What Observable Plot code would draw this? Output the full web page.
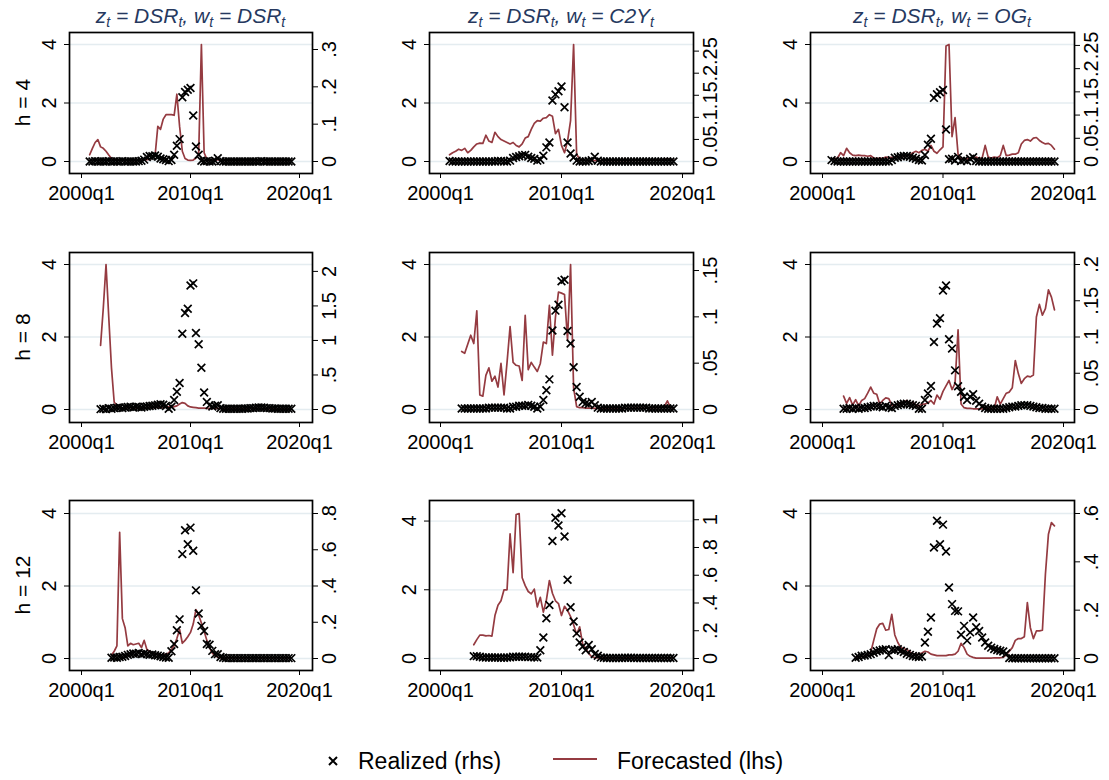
<!DOCTYPE html>
<html><head><meta charset="utf-8">
<script src="https://cdn.jsdelivr.net/npm/d3@7"></script>
<script src="https://cdn.jsdelivr.net/npm/@observablehq/plot@0.6"></script>
<style>
body{margin:0;background:#fff;}
#root{position:relative;width:1109px;height:780px;overflow:hidden;background:#fff;font-family:"Liberation Sans",Arial,Helvetica,sans-serif;}
#root svg{position:absolute;}
</style></head>
<body><div id="root"></div>
<script>
// ---------------- DATA ----------------
const xTickValues = [2000, 2010, 2020];
const xTickLabels = ["2000q1", "2010q1", "2020q1"];
const lhsTicks = [0, 2, 4];
const columnVars = ["DSR", "C2Y", "OG"];
const rowLabels = ["h = 4", "h = 8", "h = 12"];
const legendLabels = ["Realized (rhs)", "Forecasted (lhs)"];

const rhsTicks_h4_DSR = [0, 0.1, 0.2, 0.3];
const rhsTicks_h4_C2Y = [0, 0.05, 0.1, 0.15, 0.2, 0.25];
const rhsTicks_h4_OG  = [0, 0.05, 0.1, 0.15, 0.2, 0.25];
const rhsTicks_h8_DSR = [0, 0.5, 1, 1.5, 2];
const rhsTicks_h8_C2Y = [0, 0.05, 0.1, 0.15];
const rhsTicks_h8_OG  = [0, 0.05, 0.1, 0.15, 0.2];
const rhsTicks_h12_DSR = [0, 0.2, 0.4, 0.6, 0.8];
const rhsTicks_h12_C2Y = [0, 0.2, 0.4, 0.6, 0.8, 1];
const rhsTicks_h12_OG  = [0, 0.2, 0.4, 0.6];

// h = 4 (series start 2000q4)
const start_h4 = "2000q4";
const realized_h4_DSR = [0,
 0,0.001,0,0, 0,0,0.001,0, 0,0,0,0.001, 0,0,0,0, 0,0.001,0.002,0.005,
 0.012,0.015,0.014,0.016, 0.013,0.008,0.006,0.004, 0.001,0.004,0.018,0.042,
 0.060,0.172,0.186,0.192, 0.197,0.123,0.040,0.018, 0.002,0,0.001,0, 0,0.002,0.009,0.001,
 0,0,0,0, 0,0,0,0, 0,0,0,0, 0,0,0.001,0, 0,0,0,0, 0,0,0,0, 0,0];
const forecast_h4_DSR = [0.23,
 0.45,0.65,0.75,0.5, 0.45,0.35,0.22,0.1, 0.06,0.05,0.05,0.04, 0.04,0.04,0.03,0.03, 0.03,0.04,0.05,0.05,
 0.06,0.08,0.12,0.2, 1.2,1.1,1.45,1.6, 1.6,1.6,1.58,2.3, 1.2,0.35,0.1,0.05, 0.04,0.05,0.12,0.25,
 4.0,0.3,0.08,0.06, 0.05,0.05,0.06,0.05, 0.04,0.04,0.05,0.04, 0.04,0.04,0.04,0.03, 0.03,0.03,0.03,0.03,
 0.03,0.03,0.03,0.03, 0.03,0.03,0.03,0.04, 0.04,0.04,0.04,0.04, 0.04,0.04];
const realized_h4_C2Y = [0.001,
 0,0,0,0, 0,0,0,0, 0,0,0,0, 0,0,0,0.001, 0.001,0,0,0.002,
 0.008,0.010,0.012,0.014, 0.015,0.011,0.008,0.006, 0.002,0.004,0.013,0.032,
 0.043,0.138,0.152,0.159, 0.170,0.123,0.043,0.018, 0.009,0.002,0,0, 0,0.001,0.003,0.011,
 0.002,0,0,0, 0,0,0,0, 0,0,0,0, 0,0,0,0, 0,0,0,0, 0,0,0,0, 0,0];
const forecast_h4_C2Y = [0.23,
 0.3,0.35,0.42,0.38, 0.45,0.3,0.38,0.5, 0.6,0.63,0.62,0.9, 0.7,0.65,1.0,0.85, 0.75,0.7,0.65,0.6,
 0.65,0.55,0.5,0.6, 0.8,0.85,1.1,1.3, 1.4,1.38,1.48,1.5, 1.6,1.55,0.95,1.1, 0.55,0.3,0.7,1.4,
 4.0,0.25,0.08,0.05, 0.04,0.03,0.03,0.03, 0.03,0.03,0.03,0.03, 0.03,0.03,0.03,0.03, 0.03,0.03,0.03,0.03,
 0.04,0.04,0.04,0.04, 0.04,0.04,0.05,0.05, 0.05,0.06,0.06,0.1, 0.06,0.05];
const realized_h4_OG = [0.003,
 0.001,0,0,0, 0,0,0,0, 0,0,0,0, 0,0,0,0, 0,0,0,0.003,
 0.008,0.009,0.011,0.012, 0.012,0.010,0.008,0.006, 0.003,0.002,0.014,0.036,
 0.049,0.137,0.145,0.149, 0.154,0.069,0.005,0.006, 0.002,0.010,0.001,0.003, 0.001,0.006,0.009,0.001,
 0,0,0,0, 0,0,0,0, 0,0,0,0, 0,0,0,0, 0,0,0,0, 0,0,0,0, 0,0];
const forecast_h4_OG = [0.08,
 0.1,0.12,0.3,0.2, 0.45,0.3,0.22,0.2, 0.22,0.2,0.2,0.18, 0.2,0.12,0.1,0.12, 0.1,0.15,0.13,0.14,
 0.12,0.15,0.14,0.18, 0.2,0.22,0.3,0.35, 0.3,0.38,0.42,0.35, 0.55,0.35,0.28,0.4, 0.5,3.95,4.0,0.85,
 1.5,0.25,0.1,0.08, 0.1,0.08,0.12,0.15, 0.1,0.12,0.55,0.15, 0.12,0.15,0.13,0.2, 0.55,0.2,0.22,0.25,
 0.25,0.3,0.6,0.72, 0.75,0.7,0.8,0.82, 0.72,0.65,0.6,0.62, 0.55,0.42];

// h = 8 (series start 2001q4)
const start_h8 = "2001q4";
const realized_h8_DSR = [0.005,
 0.01,0.005,0.02,0.01, 0.02,0.025,0.03,0.02, 0.03,0.035,0.04,0.03, 0.04,0.035,0.03,0.04,
 0.045,0.05,0.055,0.06, 0.07,0.075,0.07,0.05, 0.01,0.04,0.137,0.257, 0.383,1.097,1.397,1.46,
 1.796,1.827,1.108,0.945, 0.604,0.247,0.11,0.063, 0.042,0.053,0.063,0.02, 0.01,0.01,0.01,0.01,
 0.01,0.01,0.01,0.01, 0.015,0.015,0.02,0.02, 0.025,0.03,0.03,0.025, 0.02,0.02,0.015,0.015,
 0.01,0.01,0.01,0.01, 0.01,0.01];
const forecast_h8_DSR = [1.77,
 2.8,4.0,2.55,1.15, 0.2,0.12,0.06,0.04, 0.04,0.05,0.05,0.05, 0.04,0.04,0.05,0.04,
 0.04,0.05,0.05,0.06, 0.06,0.05,0.05,0.06, 0.07,0.06,0.08,0.1, 0.15,0.19,0.17,0.1,
 0.07,0.06,0.05,0.04, 0.04,0.04,0.03,0.03, 0.03,0.03,0.03,0.03, 0.03,0.03,0.03,0.03,
 0.03,0.03,0.03,0.03, 0.03,0.03,0.03,0.03, 0.03,0.03,0.02,0.02, 0.02,0.02,0.02,0.02,
 0.02,0.02,0.02,0.02, 0.02,0.02];
const realized_h8_C2Y = [0.001,
 0.001,0.001,0.001,0.001, 0.001,0.001,0.001,0.001, 0.002,0.002,0.002,0.002, 0.002,0.002,0.001,0.001,
 0.003,0.003,0.004,0.004, 0.004,0.005,0.004,0.003, 0.001,0.003,0.0102,0.0207, 0.0325,0.0852,0.1067,0.113,
 0.1384,0.14,0.0848,0.0712, 0.0457,0.0242,0.0137,0.0082, 0.0066,0.0059,0.0082,0.0047, 0.002,0.001,0.001,0.001,
 0.001,0.001,0.001,0.001, 0.001,0.002,0.002,0.002, 0.002,0.002,0.002,0.002, 0.002,0.001,0.001,0.001,
 0.001,0.001,0.001,0.001, 0.001,0.001];
const forecast_h8_C2Y = [1.6,
 1.55,1.8,2.05,1.82, 2.72,0.4,0.37,0.94, 1.15,0.78,0.92,0.62, 1.27,0.4,1.3,2.29,
 1.3,1.22,1.2,0.8, 2.6,1.1,1.3,1.17, 1.05,1.27,1.86,1.82, 2.87,1.5,2.55,3.24,
 3.21,3.17,1.91,4.0, 0.6,0.08,0.05,0.05, 0.04,0.04,0.04,0.03, 0.03,0.03,0.03,0.03,
 0.03,0.03,0.03,0.03, 0.03,0.03,0.03,0.03, 0.04,0.04,0.04,0.04, 0.04,0.04,0.05,0.05,
 0.05,0.06,0.08,0.24, 0.06,0.03];
const realized_h8_OG = [0.001,
 0.001,0.002,0.001,0.002, 0.001,0.002,0.002,0.003, 0.004,0.005,0.005,0.004, 0.003,0.005,0.003,0.002,
 0.005,0.006,0.007,0.008, 0.008,0.007,0.006,0.005, 0.001,0.001,0.013,0.022, 0.0325,0.093,0.1185,0.126,
 0.164,0.171,0.097,0.084, 0.054,0.032,0.0245,0.0175, 0.013,0.0175,0.021,0.012, 0.008,0.004,0.002,0.001,
 0.001,0.001,0.001,0.001, 0.001,0.002,0.003,0.004, 0.004,0.005,0.006,0.006, 0.006,0.005,0.004,0.003,
 0.002,0.002,0.001,0.001, 0.001,0.001];
const forecast_h8_OG = [0.37,
 0.17,0.33,0.12,0.27, 0.1,0.25,0.3,0.45, 0.62,0.45,0.42,0.15, 0.25,0.32,0.3,0.12,
 0.12,0.15,0.18,0.2, 0.25,0.15,0.2,0.12, 0.1,0.15,0.15,0.18, 0.25,0.15,0.4,0.28,
 0.5,0.65,0.8,0.55, 0.72,2.2,0.15,0.05, 0.03,0.03,0.02,0.02, 0.02,0.02,0.03,0.03,
 0.02,0.03,0.35,0.15, 0.3,0.45,0.48,0.6, 1.35,0.99,0.72,0.85, 0.92,0.9,0.95,2.55,
 2.9,2.6,2.78,3.3, 3.1,2.75];

// h = 12 (series start 2002q4)
const start_h12 = "2002q4";
const realized_h12_DSR = [0.004,
 0.006,0.004,0.008,0.01, 0.014,0.02,0.024,0.028, 0.026,0.03,0.024,0.028, 0.024,0.02,0.022,0.018,
 0.016,0.012,0.008,0.006, 0.004,0.04,0.08,0.156, 0.216,0.576,0.708,0.63, 0.722,0.594,0.376,0.248,
 0.18,0.152,0.08,0.076, 0.042,0.024,0.024,0.008, 0.004,0.002,0.002,0.002, 0.002,0.002,0.002,0.002,
 0.002,0.002,0.002,0.002, 0.002,0.002,0.002,0.002, 0.002,0.002,0.002,0.002, 0.002,0.002,0.002,0.002,
 0.002,0.002];
const forecast_h12_DSR = [0.09,
 0.2,0.35,3.48,1.1, 0.85,0.35,0.42,0.38, 0.4,0.42,0.3,0.5, 0.25,0.2,0.15,0.12,
 0.12,0.1,0.1,0.12, 0.15,0.25,0.35,0.55, 0.8,0.42,0.5,0.6, 0.72,0.95,1.35,1.2,
 0.98,0.75,0.5,0.3, 0.15,0.08,0.03,0.02, 0.02,0.02,0.02,0.02, 0.02,0.02,0.02,0.02,
 0.02,0.02,0.02,0.02, 0.02,0.02,0.02,0.02, 0.02,0.02,0.02,0.02, 0.02,0.02,0.02,0.02,
 0.02,0.02];
const realized_h12_C2Y = [0.017,
 0.017,0.012,0.008,0.007, 0.007,0.007,0.007,0.007, 0.006,0.006,0.007,0.008, 0.012,0.012,0.012,0.012,
 0.012,0.01,0.01,0.008, 0.007,0.059,0.151,0.29, 0.386,0.847,1.015,0.958, 1.047,0.879,0.567,0.369,
 0.267,0.181,0.116,0.087, 0.059,0.097,0.067,0.032, 0.02,0.008,0.005,0.004, 0.004,0.004,0.004,0.004,
 0.004,0.005,0.006,0.005, 0.004,0.004,0.004,0.004, 0.004,0.004,0.004,0.004, 0.004,0.004,0.004,0.004,
 0.004,0.004];
const forecast_h12_C2Y = [0.4,
 0.55,0.68,0.68,0.66, 0.67,0.65,1.25,1.55, 1.68,2.0,2.0,3.63, 2.5,4.19,4.22,2.35,
 2.12,1.95,1.88,2.02, 1.5,1.78,1.35,1.7, 2.27,1.9,1.68,1.6, 1.25,1.52,1.4,1.22,
 0.98,0.7,0.92,0.42, 0.3,0.15,0.05,0.03, 0.02,0.02,0.02,0.02, 0.02,0.02,0.02,0.02,
 0.02,0.02,0.02,0.02, 0.02,0.02,0.02,0.02, 0.02,0.02,0.02,0.02, 0.02,0.02,0.02,0.02,
 0.02,0.02];
const realized_h12_OG = [0.003,
 0.006,0.011,0.012,0.015, 0.018,0.024,0.03,0.033, 0.036,0.038,0.014,0.036, 0.035,0.038,0.032,0.027,
 0.02,0.015,0.01,0.008, 0.006,0.008,0.066,0.111, 0.17,0.459,0.57,0.473, 0.554,0.443,0.294,0.225,
 0.197,0.195,0.098,0.135, 0.074,0.108,0.17,0.129, 0.114,0.087,0.066,0.053, 0.045,0.039,0.035,0.032,
 0.029,0.021,0.002,0.001, 0.001,0.001,0.001,0.001, 0.001,0.001,0.001,0.001, 0.001,0.001,0.001,0.001,
 0.001,0.001];
const forecast_h12_OG = [0.03,
 0.04,0.05,0.07,0.12, 0.17,0.5,0.82,0.95, 0.97,0.78,0.8,1.22, 0.65,0.44,0.3,0.27,
 0.25,0.18,0.14,0.1, 0.12,0.15,0.2,0.18, 0.12,0.1,0.08,0.08, 0.08,0.08,0.1,0.1,
 0.12,0.2,0.42,0.3, 0.12,0.06,0.03,0.01, 0.01,0.01,0.01,0.01, 0.01,0.02,0.02,0.02,
 0.03,0.1,0.2,0.3, 0.5,0.55,0.55,0.6, 1.54,0.85,0.55,0.76, 0.76,0.78,2.33,3.43,
 3.75,3.66];

// ---------------- LAYOUT ----------------
const RED = "#953b41";
const TITLE_COLOR = "#26395f";
const FONT = "'Liberation Sans', Arial, Helvetica, sans-serif";
const COLS = [
  {x0: 69, x1: 312, xa: 81, xb: 299},
  {x0: 429, x1: 693, xa: 440, xb: 682},
  {x0: 810, x1: 1074, xa: 822, xb: 1063}
];
const ROWS = [
  {y0: 32, y1: 173, yZero: 161, yTop: 44},
  {y0: 252, y1: 422, yZero: 409, yTop: 264},
  {y0: 500, y1: 670, yZero: 658, yTop: 513}
];

const panels = [
  {row:0,col:0,start:start_h4,realized:realized_h4_DSR,forecast:forecast_h4_DSR,rhsTicks:rhsTicks_h4_DSR,lhsTop:4,rhsTop:0.3134},
  {row:0,col:1,start:start_h4,realized:realized_h4_C2Y,forecast:forecast_h4_C2Y,rhsTicks:rhsTicks_h4_C2Y,lhsTop:4,rhsTop:0.265},
  {row:0,col:2,start:start_h4,realized:realized_h4_OG,forecast:forecast_h4_OG,rhsTicks:rhsTicks_h4_OG,lhsTop:4,rhsTop:0.252},
  {row:1,col:0,start:start_h8,realized:realized_h8_DSR,forecast:forecast_h8_DSR,rhsTicks:rhsTicks_h8_DSR,lhsTop:4,rhsTop:2.10},
  {row:1,col:1,start:start_h8,realized:realized_h8_C2Y,forecast:forecast_h8_C2Y,rhsTicks:rhsTicks_h8_C2Y,lhsTop:4,rhsTop:0.1565},
  {row:1,col:2,start:start_h8,realized:realized_h8_OG,forecast:forecast_h8_OG,rhsTicks:rhsTicks_h8_OG,lhsTop:4,rhsTop:0.2},
  {row:2,col:0,start:start_h12,realized:realized_h12_DSR,forecast:forecast_h12_DSR,rhsTicks:rhsTicks_h12_DSR,lhsTop:4,rhsTop:0.8},
  {row:2,col:1,start:start_h12,realized:realized_h12_C2Y,forecast:forecast_h12_C2Y,rhsTicks:rhsTicks_h12_C2Y,lhsTop:4.22,rhsTop:1.045},
  {row:2,col:2,start:start_h12,realized:realized_h12_OG,forecast:forecast_h12_OG,rhsTicks:rhsTicks_h12_OG,lhsTop:4,rhsTop:0.6}
];

function quarterToYear(q) { const [y, n] = q.split("q"); return +y + (+n - 1) / 4; }
function toSeries(start, values) { const t0 = quarterToYear(start); return values.map((v, i) => ({t: t0 + i / 4, v})); }
function fmtStata(v) { const s = String(+v.toFixed(4)); return s.startsWith("0.") ? s.slice(1) : s; }

const root = document.getElementById("root");
const ML = 62, MR = 58, MT = 12, MB = 42;

panels.forEach(p => {
  const C = COLS[p.col], R = ROWS[p.row];
  const left = C.x0 - ML, top = R.y0 - MT;
  const W = C.x1 - C.x0 + ML + MR, H = R.y1 - R.y0 + MT + MB;
  const k = p.lhsTop / p.rhsTop;
  const fc = toSeries(p.start, p.forecast);
  const rz = toSeries(p.start, p.realized);
  const svg = Plot.plot({
    width: W, height: H,
    marginLeft: ML, marginRight: MR, marginTop: MT, marginBottom: MB,
    style: {background: "transparent", fontFamily: FONT, fontSize: "20px", overflow: "visible", color: "black"},
    x: {domain: [2000, 2020], range: [C.xa - left, C.xb - left], label: null},
    y: {domain: [0, p.lhsTop], range: [R.yZero - top, R.yTop - top], label: null},
    marks: [
      Plot.gridY(lhsTicks, {stroke: "#e4ecf0", strokeOpacity: 1, strokeWidth: 1.3}),
      Plot.line(fc, {x: "t", y: "v", stroke: RED, strokeWidth: 1.7}),
      Plot.dot(rz, {x: "t", y: d => d.v * k, symbol: "times", r: 3.6, stroke: "black", strokeWidth: 1.7}),
      Plot.frame({stroke: "black", strokeWidth: 1.7}),
      Plot.axisX({ticks: xTickValues, tickFormat: d => xTickLabels[xTickValues.indexOf(d)], tickSize: 5, tickPadding: 7, fontSize: 20, label: null}),
      Plot.axisY({anchor: "left", ticks: lhsTicks, tickFormat: d => String(d), tickRotate: -90, tickSize: 5, tickPadding: 9, fontSize: 20, label: null}),
      Plot.axisY({anchor: "right", ticks: p.rhsTicks.map(v => v * k), tickFormat: v => fmtStata(v / k), tickRotate: -90, lineAnchor: "top", tickSize: 5, tickPadding: 4, fontSize: 20, label: null})
    ]
  });
  svg.style.left = left + "px";
  svg.style.top = top + "px";
  root.appendChild(svg);
});

// titles, row labels and legend
const NS = "http://www.w3.org/2000/svg";
const ov = document.createElementNS(NS, "svg");
ov.setAttribute("width", 1109); ov.setAttribute("height", 780);
ov.style.left = "0px"; ov.style.top = "0px";
ov.style.fontFamily = FONT;
function el(tag, attrs, parent) { const e = document.createElementNS(NS, tag); for (const a in attrs) e.setAttribute(a, attrs[a]); (parent || ov).appendChild(e); return e; }

COLS.forEach((C, i) => {
  const t = el("text", {x: (C.x0 + C.x1) / 2, y: 22.5, "text-anchor": "middle", "font-size": 21, "font-style": "italic", fill: TITLE_COLOR});
  const bases = ["z", " = DSR", ", w", " = " + columnVars[i]];
  bases.forEach((s, j) => {
    const a = el("tspan", j === 0 ? {} : {dy: -4}, t); a.textContent = s;
    const b = el("tspan", {dy: 4, "font-size": 14}, t); b.textContent = "t";
  });
});
ROWS.forEach((R, i) => {
  const cy = (R.y0 + R.y1) / 2;
  const t = el("text", {x: 0, y: 0, transform: `translate(30,${cy}) rotate(-90)`, "text-anchor": "middle", "font-size": 21, fill: "black"});
  t.textContent = rowLabels[i];
});
// legend
const lx = 333, ly = 761;
el("path", {d: `M${lx-4},${ly-4}L${lx+4},${ly+4}M${lx-4},${ly+4}L${lx+4},${ly-4}`, stroke: "black", "stroke-width": 2});
const t1 = el("text", {x: 358, y: 769, "font-size": 23, fill: "black"}); t1.textContent = legendLabels[0];
el("line", {x1: 553, x2: 597, y1: 759, y2: 759, stroke: RED, "stroke-width": 2});
const t2 = el("text", {x: 617, y: 769, "font-size": 23, fill: "black"}); t2.textContent = legendLabels[1];
root.appendChild(ov);
</script>
</body></html>
